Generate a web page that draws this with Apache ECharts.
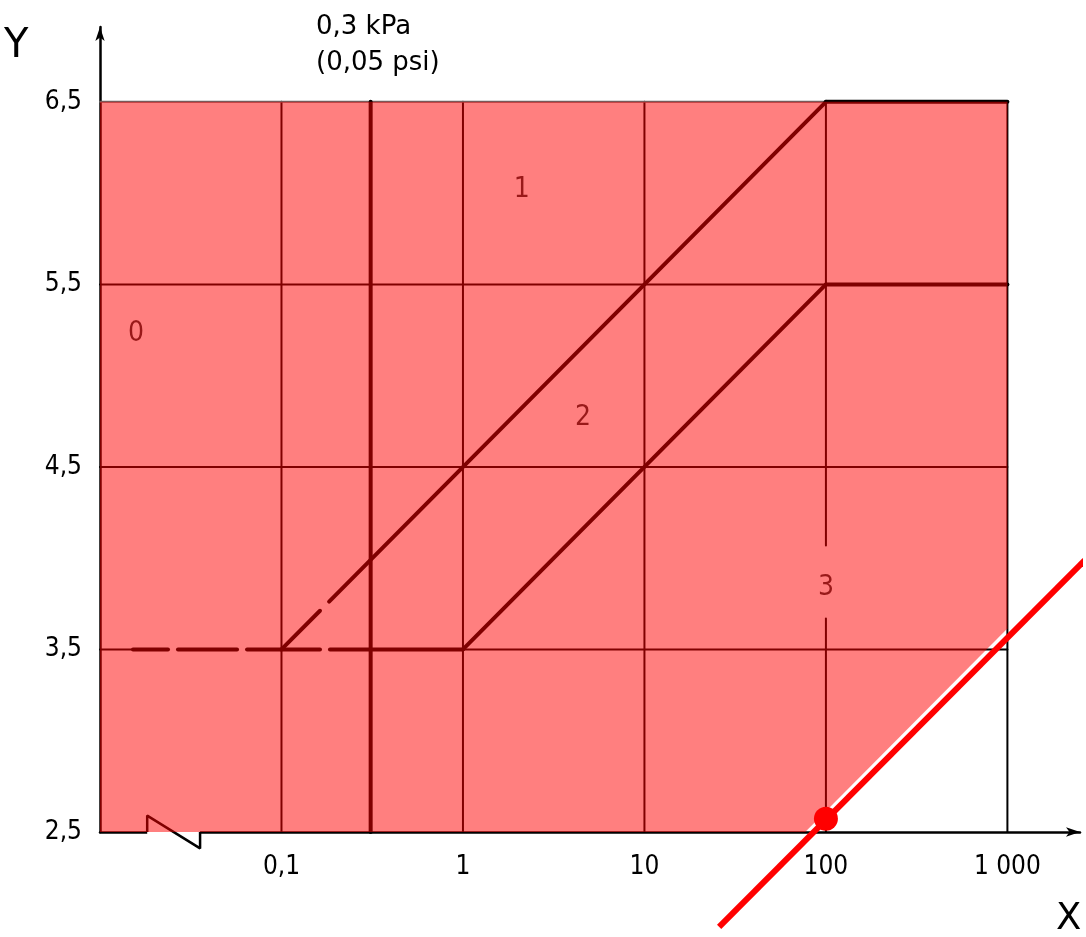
<!DOCTYPE html>
<html>
<head>
<meta charset="utf-8">
<script src="https://cdn.jsdelivr.net/npm/echarts@6/dist/echarts.min.js"></script>
<style>
html, body { margin: 0; padding: 0; background: #fff; }
#chart { width: 1086px; height: 937px; }
</style>
</head>
<body>
<div id="chart"></div>
<script>
// tick values and their printed labels
var xTicks = [0.1, 1, 10, 100, 1000];
var xTickLabels = ['0,1', '1', '10', '100', '1 000'];
var yTicks = [2.5, 3.5, 4.5, 5.5, 6.5];
var yTickLabels = ['2,5', '3,5', '4,5', '5,5', '6,5'];

// thin grid / frame lines  [x, y]
var thinLines = [
  [[0.1, 2.5], [0.1, 6.5]],
  [[1, 2.5], [1, 6.5]],
  [[10, 2.5], [10, 6.5]],
  [[100, 2.5], [100, 3.67]],
  [[100, 4.07], [100, 6.5]],
  [[0.01, 3.5], [0.0152, 3.5]],
  [[1, 3.5], [1000, 3.5]],
  [[0.01, 4.5], [1000, 4.5]],
  [[0.01, 5.5], [100, 5.5]],
  [[1000, 2.5], [1000, 6.5]]
];
var topBorder = [[0.01, 6.5], [100, 6.5]];

// heavy boundary lines (0,3 kPa line, class borders)
var heavyLines = [
  [[0.31, 2.5], [0.31, 6.5]],
  [[0.0152, 3.5], [0.0237, 3.5]],
  [[0.0269, 3.5], [0.0569, 3.5]],
  [[0.0646, 3.5], [0.163, 3.5]],
  [[0.185, 3.5], [1, 3.5]],
  [[0.1, 3.5], [0.163, 3.712]],
  [[0.183, 3.762], [100, 6.5]],
  [[100, 6.5], [1000, 6.5]],
  [[1, 3.5], [100, 5.5]],
  [[100, 5.5], [1000, 5.5]]
];

// axis break symbol
var breakGap = [[0.0182, 2.5], [0.0356, 2.5]];
var breakMark = [[0.0182, 2.5], [0.0182, 2.59], [0.0356, 2.41], [0.0356, 2.5]];

// region labels
var regionNames = ['0', '1', '2', '3'];
var regionPos = [[0.0158, 5.23], [2.11, 6.02], [4.58, 4.77], [100, 3.84]];

// shaded area, red line and point
var shadeArea = [[0.01, 2.5], [0.01, 6.5], [1000, 6.5], [1000, 3.615], [76.9, 2.5]];
var redLine = [[25.8, 1.98], [2673, 3.99]];
var redPoint = [[100, 2.573]];

var fontCond = '"DejaVu Sans Condensed", "DejaVu Sans", sans-serif';

function tickLabel(v, ticks, labels, isLog) {
  for (var i = 0; i < ticks.length; i++) {
    var d = isLog ? Math.abs(Math.log10(v) - Math.log10(ticks[i])) : Math.abs(v - ticks[i]);
    if (d < 1e-6) return labels[i];
  }
  return '';
}

function segSeries(seg, color, width, z) {
  return {
    type: 'line',
    data: seg,
    symbol: 'none',
    silent: true,
    z: z,
    lineStyle: { color: color, width: width, cap: 'round' }
  };
}

var series = [];
thinLines.forEach(function (s) { series.push(segSeries(s, '#000', 2, 2)); });
series.push(segSeries(topBorder, '#666', 2, 2));
heavyLines.forEach(function (s) { series.push(segSeries(s, '#000', 4, 2)); });

var gap = segSeries(breakGap, '#fff', 5, 1);
gap.lineStyle.cap = 'butt';
series.push(gap);
var brk = segSeries(breakMark, '#000', 2.5, 3);
brk.lineStyle.cap = 'butt';
brk.clip = false;
series.push(brk);

series.push({
  type: 'scatter',
  data: regionPos,
  symbolSize: 1,
  silent: true,
  z: 2,
  itemStyle: { color: 'rgba(0,0,0,0)' },
  label: {
    show: true,
    position: 'inside',
    color: '#000',
    fontSize: 28,
    fontFamily: fontCond,
    formatter: function (p) { return regionNames[p.dataIndex]; }
  }
});

series.push({
  type: 'custom',
  silent: true,
  z: 5,
  data: [shadeArea[0]],
  renderItem: function (params, api) {
    return {
      type: 'polygon',
      shape: { points: shadeArea.map(function (p) { return api.coord(p); }) },
      style: { fill: 'rgba(255,0,0,0.5)' }
    };
  }
});

series.push({
  type: 'line',
  data: redLine,
  symbol: 'none',
  silent: true,
  clip: false,
  z: 8,
  lineStyle: { color: '#ff0000', width: 6 }
});

series.push({
  type: 'scatter',
  data: redPoint,
  symbolSize: 24,
  silent: true,
  z: 9,
  itemStyle: { color: '#ff0000', opacity: 1 }
});

var chart = echarts.init(document.getElementById('chart'), null, { renderer: 'canvas' });
chart.setOption({
  animation: false,
  backgroundColor: '#fff',
  grid: { left: 100, right: 6, top: 27, bottom: 105 },
  xAxis: {
    type: 'log',
    logBase: 10,
    min: 0.01,
    max: 2512,
    axisLine: { show: true, lineStyle: { color: '#000', width: 2.5 }, symbol: ['none', 'arrow'], symbolSize: [7, 14] },
    axisTick: { show: false },
    splitLine: { show: false },
    axisLabel: {
      margin: 22,
      color: '#000',
      fontSize: 26,
      fontFamily: fontCond,
      showMaxLabel: false,
      showMinLabel: false,
      formatter: function (v) { return tickLabel(v, xTicks, xTickLabels, true); }
    }
  },
  yAxis: {
    type: 'value',
    min: 2.5,
    max: 6.91,
    interval: 0.5,
    axisLine: { show: true, lineStyle: { color: '#000', width: 2.5 }, symbol: ['none', 'arrow'], symbolSize: [7, 14] },
    axisTick: { show: false },
    splitLine: { show: false },
    axisLabel: {
      margin: 18,
      color: '#000',
      fontSize: 26,
      fontFamily: fontCond,
      showMaxLabel: false,
      formatter: function (v) { return tickLabel(v, yTicks, yTickLabels, false); }
    }
  },
  graphic: [
    { type: 'text', left: 4, top: 27, style: { text: 'Y', fontSize: 40, fontFamily: 'DejaVu Sans', fill: '#000' } },
    { type: 'text', left: 1056, top: 901, style: { text: 'X', fontSize: 37, fontFamily: 'DejaVu Sans', fill: '#000' } },
    { type: 'text', left: 316, top: 9, style: { text: '0,3 kPa\n(0,05 psi)', fontSize: 26, lineHeight: 36, fontFamily: 'DejaVu Sans', fill: '#000' } }
  ],
  series: series
});
</script>
</body>
</html>
